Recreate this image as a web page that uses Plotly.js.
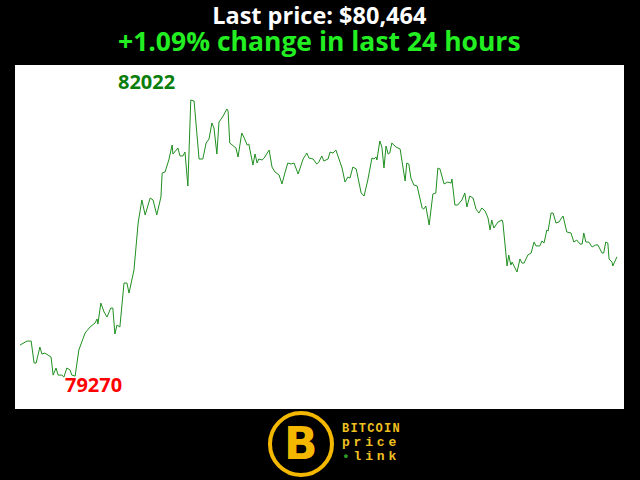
<!DOCTYPE html>
<html>
<head>
<meta charset="utf-8">
<script src="https://cdn.plot.ly/plotly-3.0.1.min.js"></script>
<style>html,body{margin:0;padding:0;background:#000;}#chart{width:640px;height:480px;}</style>
</head>
<body>
<div id="chart"></div>
<script>
// minutes since start of the 24h window
const minutes = [0,17,27,34,39,48,53,60,75,80,87,92,101,106,113,121,125,133,142,157,169,181,186,188,195,203,210,219,224,229,234,241,251,258,263,275,285,294,302,314,321,330,340,343,350,359,367,369,381,386,393,398,405,412,420,432,441,449,456,463,468,475,480,490,499,502,506,511,521,526,535,540,548,552,562,567,572,576,584,589,596,601,608,615,625,632,639,646,654,661,671,683,692,697,707,716,721,728,733,743,748,755,762,770,777,784,791,796,803,811,815,823,830,839,849,854,859,861,868,873,878,883,888,892,897,907,917,921,929,933,938,943,950,958,970,974,979,987,996,1003,1008,1013,1023,1032,1040,1042,1049,1056,1066,1073,1078,1085,1093,1100,1107,1114,1122,1129,1134,1138,1143,1153,1163,1165,1175,1179,1184,1187,1199,1206,1211,1216,1225,1233,1240,1245,1254,1259,1264,1271,1274,1281,1286,1293,1300,1305,1310,1319,1329,1336,1343,1351,1356,1360,1365,1372,1380,1389,1394,1404,1408,1413,1418,1421,1428,1430,1438,1440];
// BTC price (USD)
const prices = [79587,79627,79627,79409,79409,79568,79498,79508,79468,79289,79359,79289,79289,79270,79359,79339,79289,79279,79538,79707,79767,79806,79846,79796,80005,79915,79866,79955,79955,79697,79786,79767,80204,80204,80104,80333,80800,81029,80880,81048,81029,80880,81058,81297,81307,81426,81575,81486,81545,81466,81466,81505,81168,82022,82012,81436,81436,81595,81635,81794,81744,81486,81803,81863,81933,81913,81595,81575,81545,81456,81694,81654,81575,81585,81376,81486,81396,81436,81426,81446,81495,81525,81356,81307,81277,81188,81297,81396,81386,81396,81287,81436,81495,81446,81436,81386,81406,81466,81416,81436,81505,81495,81525,81426,81346,81207,81257,81247,81356,81337,81257,81098,81068,81227,81446,81436,81456,81426,81615,81555,81346,81565,81486,81495,81595,81555,81535,81426,81217,81396,81386,81247,81178,81168,80949,80939,80969,80780,81088,81098,81346,81337,81188,81207,81197,81237,80979,80979,81029,81098,80959,81068,81048,80939,80899,80949,80919,80850,80731,80830,80750,80810,80830,80800,80373,80482,80383,80412,80313,80442,80402,80402,80482,80502,80611,80572,80572,80621,80601,80731,80721,80899,80899,80800,80810,80840,80870,80711,80701,80611,80631,80591,80591,80701,80611,80611,80562,80582,80582,80502,80502,80611,80601,80442,80412,80373,80452,80464];

const lastPrice = 80464;
const changePct = 1.09;
const maxPrice = Math.max(...prices);
const minPrice = Math.min(...prices);
const maxT = minutes[prices.indexOf(maxPrice)];
const minT = minutes[prices.indexOf(minPrice)];

const trace = {
  x: minutes, y: prices, type: 'scatter', mode: 'lines',
  line: {color: '#1f8f1f', width: 1}, hoverinfo: 'skip'
};

const hiddenAxis = {showgrid:false, zeroline:false, showticklabels:false, ticks:'', showline:false};

const layout = {
  width: 640, height: 480,
  paper_bgcolor: '#000000', plot_bgcolor: '#ffffff',
  margin: {l: 15, r: 16, t: 65, b: 71, pad: 0},
  showlegend: false,
  xaxis: Object.assign({range: [-12, 1457]}, hiddenAxis),
  yaxis: Object.assign({range: [78952, 82370]}, hiddenAxis),
  font: {family: 'Open Sans, sans-serif'},
  annotations: [
    {xref:'paper', yref:'paper', x:0.5008, y:1.104, xanchor:'center', yanchor:'middle', showarrow:false,
     text:'<b><span style="font-size:23.5px">Last price: $' + lastPrice.toLocaleString('en-US') + '</span></b><br>' +
          '<b><span style="font-size:26.5px;color:#22ee22">+' + changePct.toFixed(2) + '% change in last 24 hours</span></b>',
     font:{family:'Open Sans', size:21, color:'#ffffff'}},
    {x:maxT, y:maxPrice, xanchor:'right', yanchor:'bottom', xshift:-14, yshift:3, showarrow:false,
     text:'<b>' + maxPrice + '</b>', font:{family:'Open Sans', size:20, color:'#0a7d0a'}},
    {x:minT, y:minPrice, xanchor:'left', yanchor:'top', xshift:-1, yshift:8, showarrow:false,
     text:'<b>' + minPrice + '</b>', font:{family:'Open Sans', size:20, color:'#ff0000'}},
    // logo
    {xref:'paper', yref:'paper', x:0.4696, y:-0.1017, xanchor:'center', yanchor:'middle', showarrow:false,
     text:'<b>B</b>', font:{family:'DejaVu Sans', size:44, color:'#f5b800'}},
    {xref:'paper', yref:'paper', x:0.5337, y:-0.0581, xanchor:'left', yanchor:'middle', showarrow:false,
     text:'<b><span style="letter-spacing:1.2px">BITCOIN</span></b>', font:{family:'Liberation Mono', size:12, color:'#f0c020'}},
    {xref:'paper', yref:'paper', x:0.5337, y:-0.0988, xanchor:'left', yanchor:'middle', showarrow:false,
     text:'<b><span style="letter-spacing:3.8px">price</span></b>', font:{family:'Liberation Mono', size:13, color:'#f0c020'}},
    {xref:'paper', yref:'paper', x:0.5337, y:-0.1395, xanchor:'left', yanchor:'middle', showarrow:false,
     text:'<b><span style="letter-spacing:3.8px"><span style="color:#2a9a2a">•</span>link</span></b>', font:{family:'Liberation Mono', size:13, color:'#f0c020'}}
  ],
  shapes: [
    {type:'circle', xref:'paper', yref:'paper', x0:0.4187, x1:0.5205, y0:-0.0116, y1:-0.1919,
     line:{color:'#f5b800', width:4}, fillcolor:'rgba(0,0,0,0)'}
  ]
};

Plotly.newPlot('chart', [trace], layout, {displayModeBar:false, staticPlot:true});
</script>
</body>
</html>
